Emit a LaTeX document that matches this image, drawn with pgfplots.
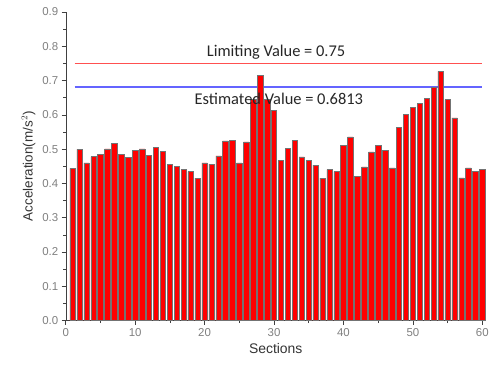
\documentclass[border=0pt]{standalone}
\usepackage{pgfplots}
\pgfplotsset{compat=1.18}
\usepackage{fontspec}
\setmainfont{Liberation Sans}
\newfontfamily\annfont{Carlito}
\definecolor{estblue}{RGB}{100,100,255}
\definecolor{limred}{RGB}{255,80,80}
\pgfplotstableread{
x y
1.3 0.75
60 0.75
}\limtable
\pgfplotstableread{
x y
1.3 0.6813
60 0.6813
}\esttable
\begin{document}
\begin{tikzpicture}
\begin{axis}[
  scale only axis,
  width=422pt, height=310pt,
  xmin=0, xmax=60.5, ymin=0, ymax=0.9,
  axis x line=bottom, axis y line=left,
  axis line style={-, black!75},
  tick align=outside,
  xtick={0,10,...,60}, ytick={0,0.1,...,0.9},
  minor x tick num=1, minor y tick num=1,
  major tick length=4pt, minor tick length=2.5pt,
  tick style={black!75, semithick},
  /pgf/number format/assume math mode=true,
  yticklabel style={/pgf/number format/.cd, fixed, fixed zerofill, precision=1},
  ticklabel style={font=\fontsize{11.5}{12}\selectfont, text=black!50},
  xlabel={Sections}, ylabel={Acceleration(m/s$^2$)},
  xlabel style={font=\fontsize{14}{15}\selectfont, text=black!80},
  ylabel style={font=\fontsize{13.5}{14}\selectfont, text=black!80, yshift=0pt},
  clip=false,
]
\addplot[draw=limred, line width=1.6pt, mark=none, forget plot] table[x=x,y=y] {\limtable};
\addplot[draw=estblue, line width=1.2pt, mark=none, forget plot] table[x=x,y=y] {\esttable};
\addplot[ybar, bar width=0.78, fill=red, draw=black!55, line width=0.5pt] coordinates {
(1,0.444) (2,0.499) (3,0.460) (4,0.478) (5,0.485) (6,0.501) (7,0.517) (8,0.485) (9,0.475) (10,0.496)
(11,0.501) (12,0.482) (13,0.505) (14,0.494) (15,0.455) (16,0.449) (17,0.441) (18,0.434) (19,0.415) (20,0.460)
(21,0.456) (22,0.480) (23,0.524) (24,0.525) (25,0.460) (26,0.521) (27,0.645) (28,0.715) (29,0.645) (30,0.613)
(31,0.468) (32,0.502) (33,0.525) (34,0.477) (35,0.468) (36,0.453) (37,0.415) (38,0.440) (39,0.434) (40,0.510)
(41,0.536) (42,0.420) (43,0.448) (44,0.492) (45,0.511) (46,0.497) (47,0.445) (48,0.563) (49,0.602) (50,0.622)
(51,0.634) (52,0.648) (53,0.681) (54,0.727) (55,0.644) (56,0.591) (57,0.416) (58,0.445) (59,0.436) (60,0.441)
};
\node[anchor=base, font=\annfont\fontsize{16.5}{17}\selectfont, text=black!85] at (axis cs:30.3,0.77) {Limiting Value = 0.75};
\node[anchor=base, font=\annfont\fontsize{16.5}{17}\selectfont, text=black!85] at (axis cs:30.7,0.631) {Estimated Value = 0.6813};
\path (rel axis cs:0,0) ++(-66pt,-51pt) coordinate (bl);
\path (rel axis cs:1,1) ++(4pt,12pt) coordinate (tr);
\path (bl) rectangle (tr);
\end{axis}
\end{tikzpicture}
\end{document}
